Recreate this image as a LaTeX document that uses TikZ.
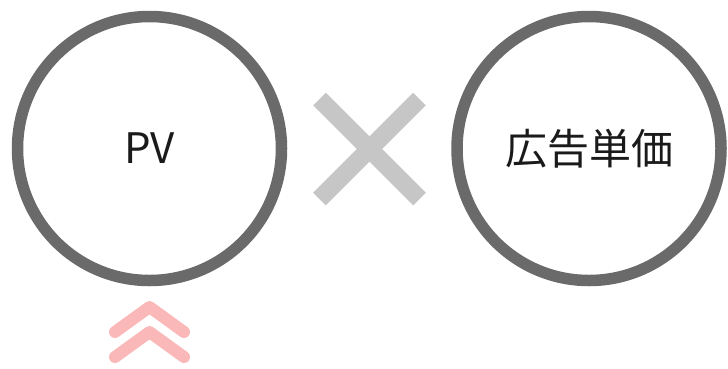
\documentclass[tikz,border=0pt]{standalone}
\usepackage{fontspec}
\setmainfont{Noto Sans CJK JP}
\definecolor{ringgray}{HTML}{6A6A6A}
\definecolor{crossgray}{HTML}{C6C6C6}
\definecolor{chevpink}{HTML}{FBB8B8}
\definecolor{txt}{HTML}{1A1A1A}
\begin{document}
\begin{tikzpicture}[x=1pt,y=-1pt,
  ring/.style={circle,draw=ringgray,line width=11.5pt,minimum size=264pt,inner sep=0pt,
    font=\fontsize{42}{48}\selectfont,text=txt},
  crossbar/.style={draw=crossgray,line width=18pt,line cap=butt},
  chev/.style={draw=chevpink,line width=12pt,line cap=round,line join=round}]
\useasboundingbox (0,0) rectangle (728,368);
\node[ring] (pv) at (149.5,148.5) {PV};
\node[ring] (ad) at (589,148.5) {広告単価};
\coordinate (c1) at (319.5,99);
\coordinate (c2) at (419.5,199);
\coordinate (c3) at (419.5,99);
\coordinate (c4) at (319.5,199);
\draw[crossbar] (c1) -- (c2);
\draw[crossbar] (c3) -- (c4);
\coordinate (a1) at (115,332);
\coordinate (a2) at (149.5,307);
\coordinate (a3) at (184,332);
\coordinate (b1) at (115,357);
\coordinate (b2) at (149.5,332);
\coordinate (b3) at (184,357);
\draw[chev] (a1) -- (a2) -- (a3);
\draw[chev] (b1) -- (b2) -- (b3);
\end{tikzpicture}
\end{document}
